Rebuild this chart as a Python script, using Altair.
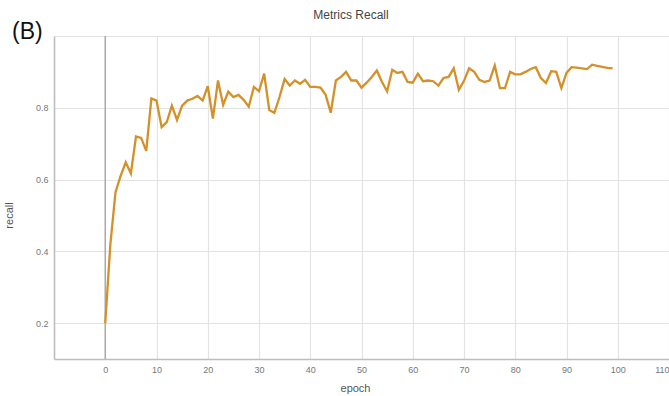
import altair as alt
import pandas as pd

# Per-epoch recall on the validation set
epochs = list(range(100))
recall = [
    0.200, 0.420, 0.565, 0.610, 0.648, 0.617, 0.720, 0.716, 0.680, 0.826,
    0.820, 0.746, 0.760, 0.806, 0.766, 0.806, 0.820, 0.825, 0.833, 0.820,
    0.860, 0.770, 0.876, 0.808, 0.845, 0.830, 0.836, 0.822, 0.803, 0.858,
    0.846, 0.895, 0.794, 0.786, 0.830, 0.880, 0.862, 0.876, 0.867, 0.878,
    0.858, 0.858, 0.856, 0.836, 0.786, 0.876, 0.886, 0.900, 0.876, 0.876,
    0.856, 0.870, 0.886, 0.904, 0.872, 0.846, 0.906, 0.897, 0.900, 0.872,
    0.870, 0.895, 0.874, 0.876, 0.874, 0.862, 0.883, 0.886, 0.910, 0.850,
    0.875, 0.910, 0.900, 0.878, 0.872, 0.876, 0.918, 0.855, 0.855, 0.900,
    0.893, 0.893, 0.900, 0.908, 0.913, 0.883, 0.869, 0.902, 0.900, 0.855,
    0.897, 0.913, 0.912, 0.910, 0.908, 0.920, 0.917, 0.914, 0.911, 0.910,
]
x_ticks = list(range(-10, 111, 10))
y_ticks = [0.2, 0.4, 0.6, 0.8, 1.0]

df = pd.DataFrame({"epoch": epochs, "recall": recall})

W, H = 615, 323
FONT = "Liberation Sans"
LINE = "#D4912A"

x_enc = alt.X(
    "epoch:Q",
    scale=alt.Scale(domain=[-10, 110], nice=False, zero=False),
    axis=alt.Axis(
        values=x_ticks,
        labelExpr="datum.value < 0 ? '' : datum.label",
        title="epoch",
        titleX=301,
        titleY=32,
        titleBaseline="alphabetic",
        titleFontSize=11,
        titleFontWeight="normal",
        titleColor="#555",
    ),
)
y_enc = alt.Y(
    "recall:Q",
    scale=alt.Scale(domain=[0.1, 1.0], nice=False, zero=False),
    axis=alt.Axis(
        values=y_ticks,
        labelExpr="datum.value >= 1 ? '' : format(datum.value, '.1f')",
        title="recall",
        titleX=-40,
        titleY=179,
        titleFontSize=11,
        titleFontWeight="normal",
        titleColor="#555",
    ),
)

line = alt.Chart(df).mark_line(color=LINE, strokeWidth=2.3).encode(x=x_enc, y=y_enc)

zero_rule = alt.Chart(pd.DataFrame({"epoch": [0]})).mark_rule(
    color="#aaaaaa", strokeWidth=1.5
).encode(x=alt.X("epoch:Q"))

title_text = alt.Chart(pd.DataFrame({"t": ["Metrics Recall"]})).mark_text(
    font=FONT, fontSize=12, color="#444", align="center", baseline="alphabetic"
).encode(text="t:N", x=alt.value(297), y=alt.value(-17))

panel_text = alt.Chart(pd.DataFrame({"t": ["(B)"]})).mark_text(
    font=FONT, fontSize=23, color="#111", align="left", baseline="alphabetic"
).encode(text="t:N", x=alt.value(-42), y=alt.value(3))

chart = (
    alt.layer(zero_rule, line, title_text, panel_text)
    .properties(
        width=W,
        height=H,
        autosize=alt.AutoSizeParams(type="none"),
        padding={"left": 54, "top": 36, "right": 0, "bottom": 37},
    )
    .configure_view(stroke=None)
    .configure_axis(
        labelFont=FONT,
        titleFont=FONT,
        labelFontSize=9,
        labelColor="#777",
        gridColor="#e3e3e3",
        gridWidth=1.2,
        domainColor="#bdbdbd",
        domainWidth=1.5,
        ticks=False,
        labelPadding=6,
    )
)

chart.save("out.html", embed_options={"renderer": "svg", "actions": False})
